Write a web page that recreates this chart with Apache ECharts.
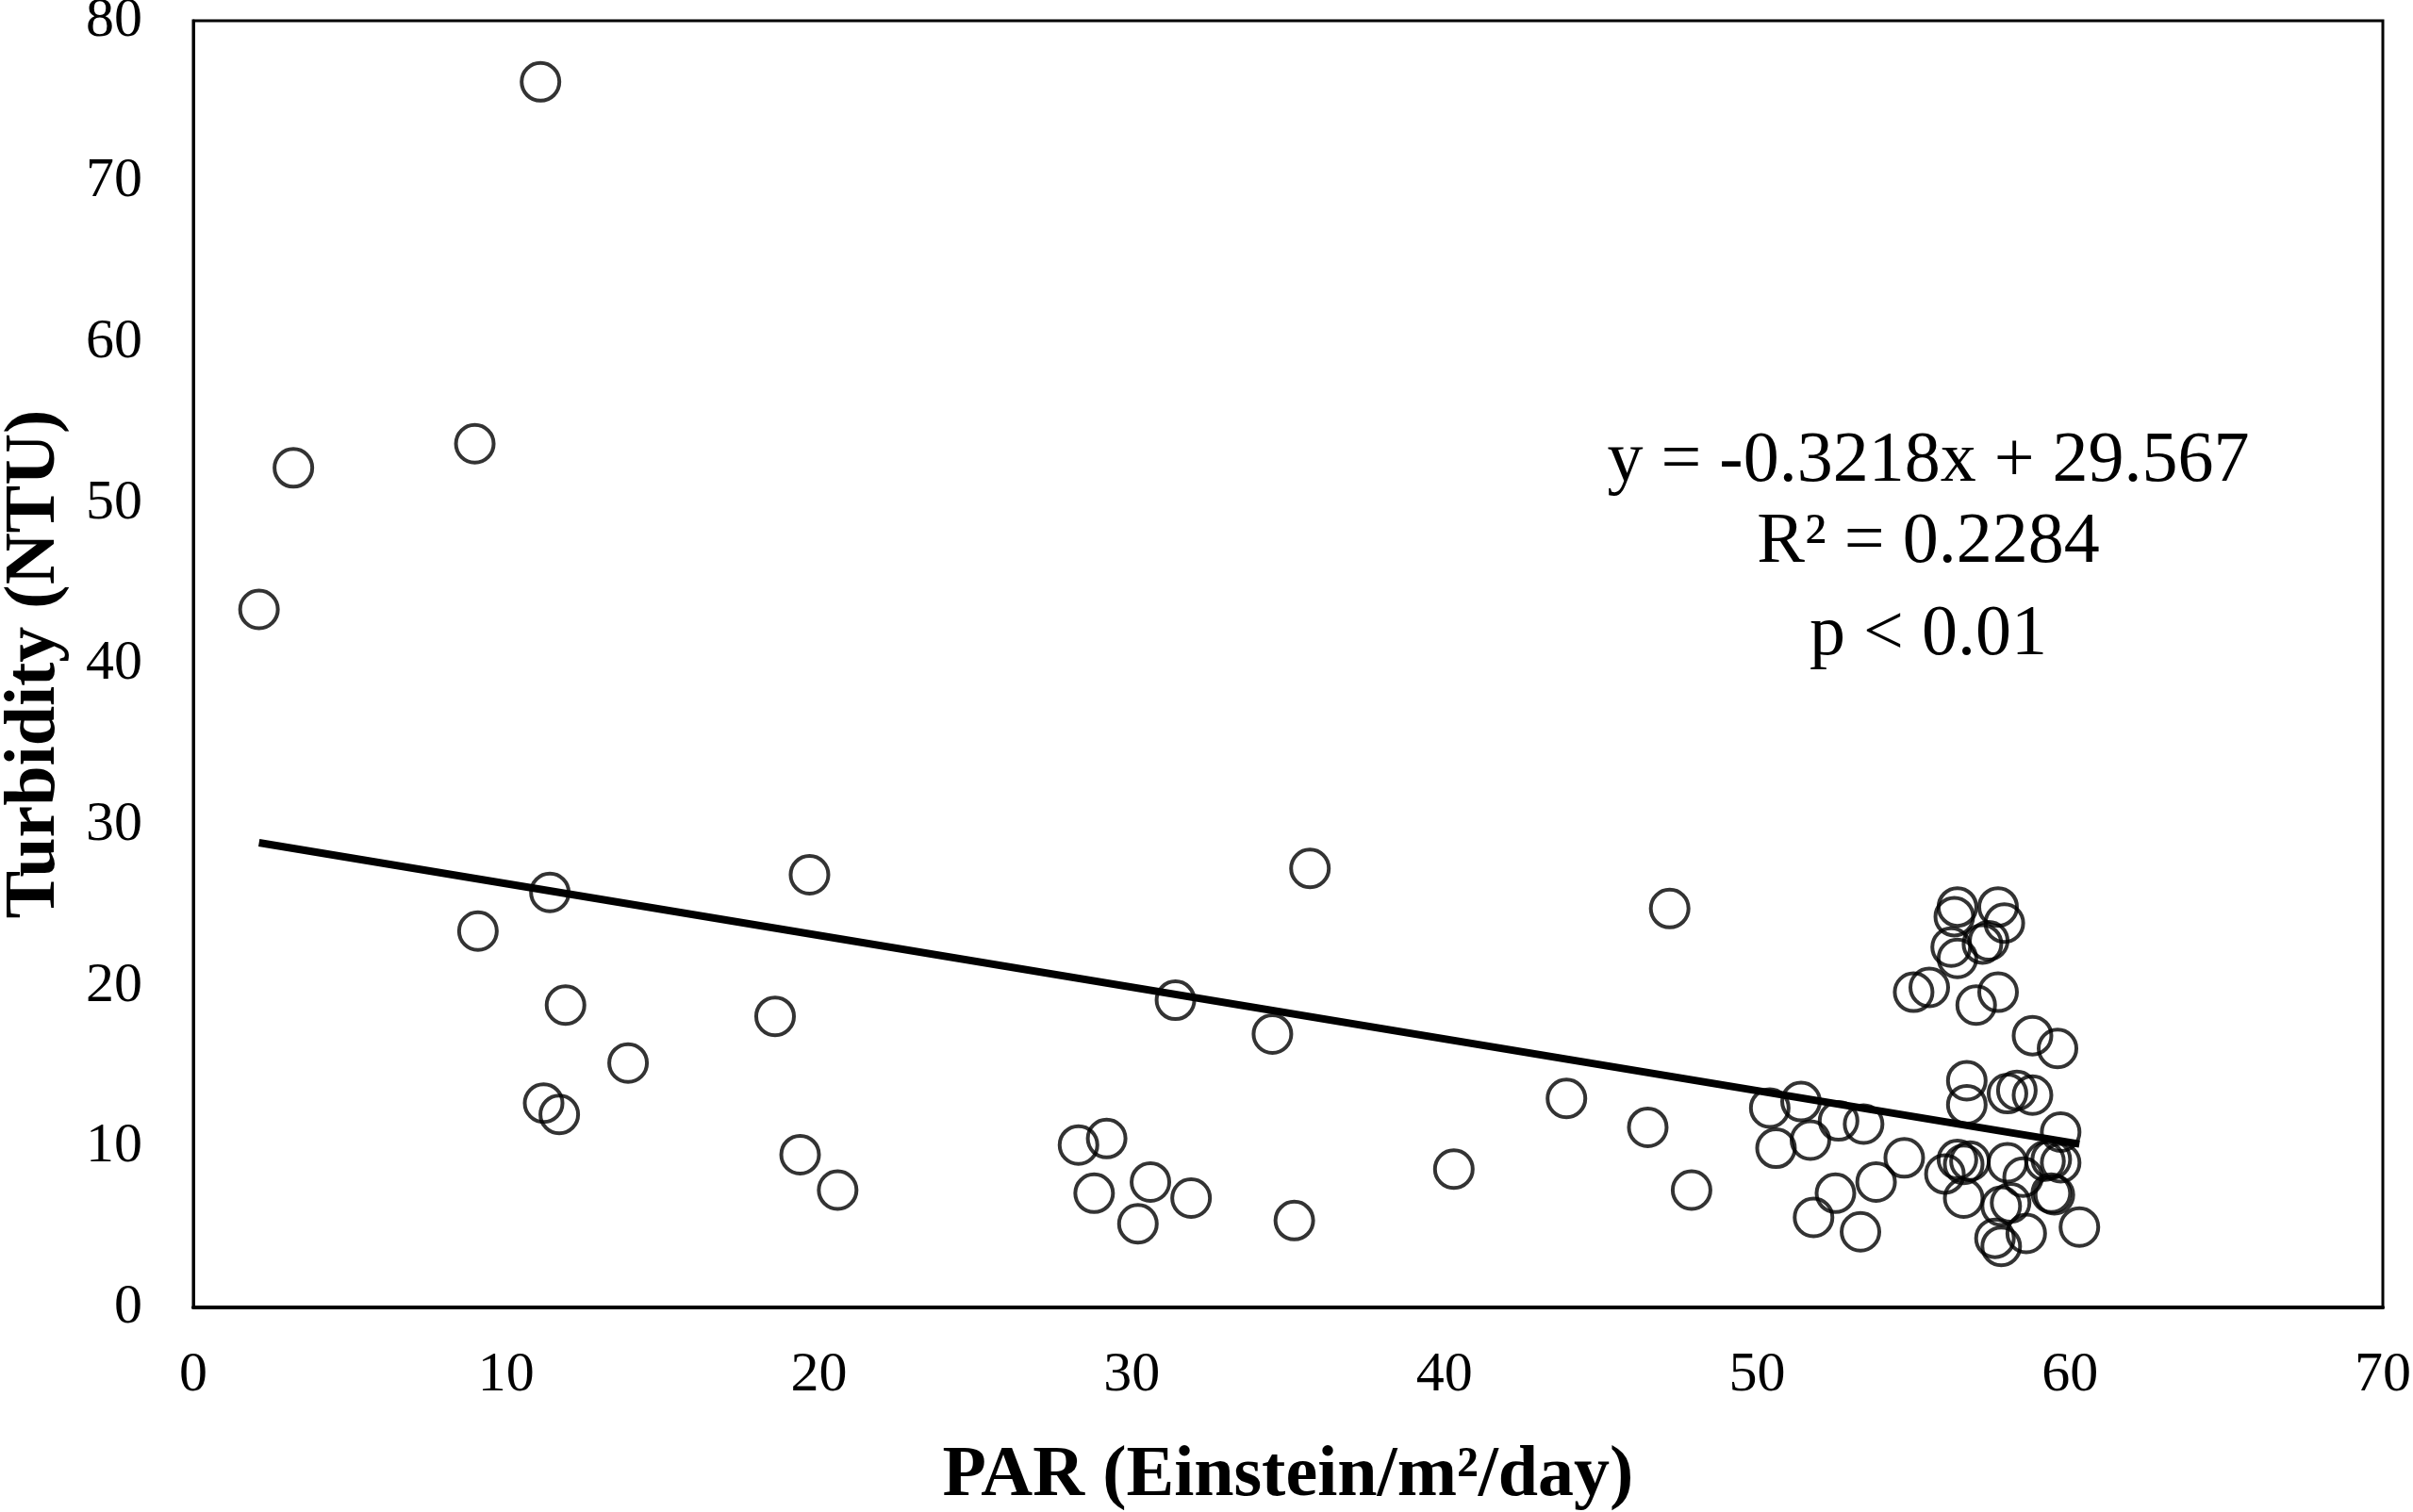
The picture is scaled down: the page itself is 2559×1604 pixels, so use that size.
<!DOCTYPE html>
<html lang="en">
<head>
    <meta charset="UTF-8">
    <title>Turbidity vs PAR</title>
    <script src="https://cdn.jsdelivr.net/npm/echarts@6/dist/echarts.min.js"></script>
    <style>
        html, body { margin: 0; padding: 0; background: #fff; }
        #main { width: 2559px; height: 1604px; }
    </style>
</head>
<body>
    <div id="main"></div>
    <script>
        // PAR (x) and turbidity (y)
        const parValues = [
            2.1, 3.2, 9.0, 11.1, 9.1, 11.4, 11.9, 11.2, 11.7, 13.9,
            18.6, 19.7, 19.4, 20.6, 28.3, 29.2, 28.8, 30.2, 30.6, 31.9,
            31.4, 34.5, 35.7, 35.2, 40.3, 43.9, 46.5, 47.2, 47.9, 50.4,
            50.6, 51.4, 51.7, 51.8, 52.5, 52.6, 53.4, 53.3, 53.8, 54.7,
            56.4, 56.3, 57.7, 57.9, 56.2, 56.4, 57.4, 57.2, 55.0, 55.5,
            57.0, 57.7, 58.8, 59.6, 56.7, 56.7, 58.0, 58.3, 58.8, 59.7,
            56.0, 56.4, 56.6, 56.8, 56.6, 58.0, 58.5, 59.2, 59.4, 59.7,
            59.4, 59.5, 57.8, 58.1, 57.6, 57.8, 58.6, 60.3
        ];
        const turbidityValues = [
            43.4, 52.2, 53.7, 76.2, 23.4, 25.8, 18.8, 12.7, 12.0, 15.2,
            18.1, 26.9, 9.5, 7.3, 10.1, 10.5, 7.1, 5.2, 7.8, 6.8,
            19.1, 17.0, 27.3, 5.4, 8.6, 13.0, 11.2, 24.8, 7.3, 12.4,
            9.9, 12.8, 10.4, 5.6, 7.1, 11.6, 11.4, 4.7, 7.8, 9.3,
            24.9, 24.3, 24.9, 23.9, 22.4, 21.7, 22.8, 22.6, 19.6, 19.9,
            18.8, 19.6, 16.9, 16.1, 14.1, 12.6, 13.3, 13.5, 13.2, 10.9,
            8.3, 9.2, 8.9, 9.1, 6.8, 9.0, 8.1, 9.1, 9.2, 9.0,
            7.1, 7.0, 6.3, 6.5, 4.3, 3.8, 4.6, 5.0
        ];

        // linear fit printed on the figure
        const slope = -0.3218;
        const intercept = 29.567;
        const fitLines = ['y = -0.3218x + 29.567', 'R² = 0.2284', 'p < 0.01'];

        const xTicks = { min: 0, max: 70, interval: 10 };
        const yTicks = { min: 0, max: 80, interval: 10 };

        const serif = '"Liberation Serif", "Times New Roman", serif';

        let points = parValues.map((x, i) => [x, turbidityValues[i]]);
        let xMin = Math.min(...parValues), xMax = Math.max(...parValues);
        let trend = [[xMin, slope * xMin + intercept], [xMax, slope * xMax + intercept]];

        let chart = echarts.init(document.getElementById('main'));
        let option = {
            backgroundColor: '#fff',
            animation: false,
            grid: {
                left: 205, right: 32, top: 22, bottom: 217,
                outerBoundsMode: 'none',
                show: true, borderColor: '#000', borderWidth: 3
            },
            xAxis: {
                type: 'value',
                min: xTicks.min, max: xTicks.max, interval: xTicks.interval,
                name: 'PAR (Einstein/m²/day)',
                nameLocation: 'middle',
                nameGap: 141,
                nameTextStyle: { fontFamily: serif, fontWeight: 'bold', fontSize: 76, color: '#000' },
                axisLine: { show: true, lineStyle: { color: '#000', width: 4 } },
                axisTick: { show: false },
                splitLine: { show: false },
                axisLabel: { fontFamily: serif, fontSize: 60, color: '#000', margin: 42 }
            },
            yAxis: {
                type: 'value',
                min: yTicks.min, max: yTicks.max, interval: yTicks.interval,
                name: 'Turbidity (NTU)',
                nameLocation: 'middle',
                nameGap: 130,
                nameTextStyle: { fontFamily: serif, fontWeight: 'bold', fontSize: 76, color: '#000' },
                axisLine: { show: true, lineStyle: { color: '#000', width: 3 } },
                axisTick: { show: false },
                splitLine: { show: false },
                axisLabel: { fontFamily: serif, fontSize: 60, color: '#000', margin: 54 }
            },
            series: [
                {
                    type: 'line',
                    data: trend,
                    symbol: 'none',
                    lineStyle: { color: '#000', width: 8 },
                    z: 3
                },
                {
                    type: 'scatter',
                    data: points,
                    symbol: 'circle',
                    symbolSize: 40,
                    itemStyle: { color: 'rgba(255,255,255,0)', borderColor: '#000', borderWidth: 4 },
                    z: 4
                }
            ],
            graphic: fitLines.map((t, i) => ({
                type: 'text',
                x: 2045, y: [490, 576, 674][i],
                style: {
                    text: t, align: 'center', verticalAlign: 'middle',
                    font: '76px ' + serif, fill: '#000'
                },
                z: 10
            }))
        };
        chart.setOption(option);
    </script>
</body>
</html>
